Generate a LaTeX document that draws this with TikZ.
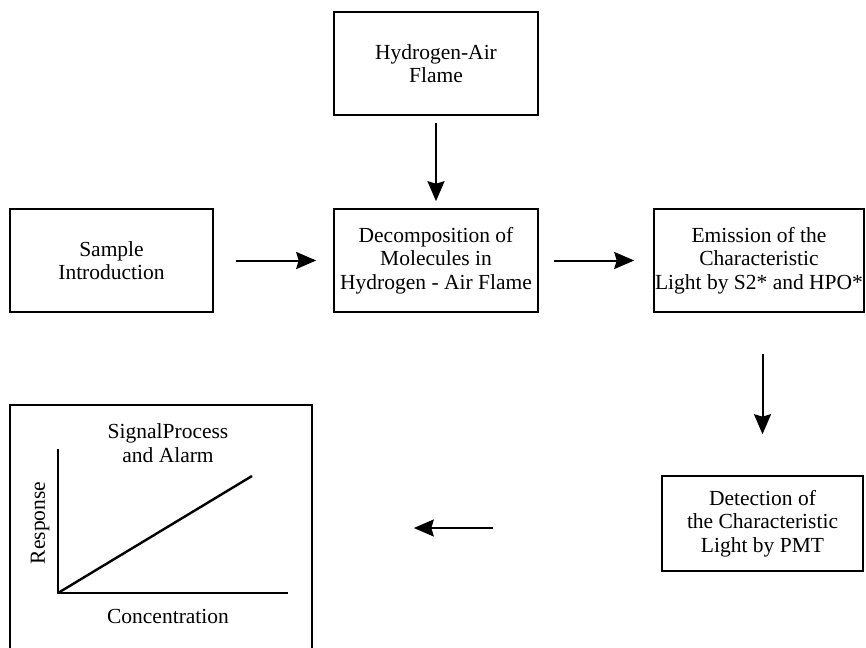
\documentclass[tikz,border=0pt]{standalone}
\usepackage{fontspec}
\setmainfont{Liberation Serif}
\usetikzlibrary{arrows.meta}
\tikzset{
  box/.style={draw, line width=1.6pt, inner sep=0pt, align=center,
    font=\fontsize{21.5}{23.5}\selectfont},
  arr/.style={line width=2pt, -{Stealth[length=20pt,width=17pt,inset=2.5pt]}},
  axis/.style={line width=2.4pt},
  lbl/.style={font=\fontsize{21.5}{23.5}\selectfont, align=center, inner sep=0pt}
}
\begin{document}
\begin{tikzpicture}[x=1pt,y=-1pt]
\useasboundingbox (0,0) rectangle (866,647);
\clip (0,0) rectangle (866,647);
% boxes
\node[box, minimum width=204pt, minimum height=103pt] (flame) at (436,63.5) {Hydrogen-Air\\Flame};
\node[box, minimum width=203pt, minimum height=103pt] (sample) at (111.5,260.5) {Sample\\Introduction};
\node[box, minimum width=204pt, minimum height=103pt] (decomp) at (436,260.5) {Decomposition of\\Molecules in\\Hydrogen - Air Flame};
\node[box, minimum width=210pt, minimum height=103pt] (emis) at (759,260.5) {Emission of the\\Characteristic\\Light by S2* and HPO*};
\node[box, minimum width=201pt, minimum height=95pt] (detect) at (762.5,523.5) {Detection of\\the Characteristic\\Light by PMT};
\node[draw, line width=1.6pt, minimum width=302pt, minimum height=260pt, inner sep=0pt] (signal) at (161,535) {};
% graph inside signal box
\coordinate (o) at (58,593);
\draw[axis] (58,449) -- (o) -- (288,593);
\draw[axis] (o) -- (252,476);
\node[lbl] (sigtitle) at (168,443) {SignalProcess\\and Alarm};
\node[lbl, rotate=90] (resp) at (40,523) {Response};
\node[lbl] (conc) at (168,616) {Concentration};
% arrows
\draw[arr, shorten <=7pt, shorten >=7pt] (flame.south) -- (decomp.north);
\draw[arr, shorten <=22pt, shorten >=17pt] (sample.east) -- (decomp.west);
\draw[arr, shorten <=15pt, shorten >=19pt] (decomp.east) -- (emis.west);
\draw[arr, shorten <=41pt, shorten >=41pt] (detect.north |- emis.south) -- (detect.north);
\coordinate (d1) at ([yshift=-4.5pt]detect.west);
\draw[arr, shorten <=168pt, shorten >=101pt] (d1) -- (d1 -| signal.east);
\end{tikzpicture}
\end{document}
